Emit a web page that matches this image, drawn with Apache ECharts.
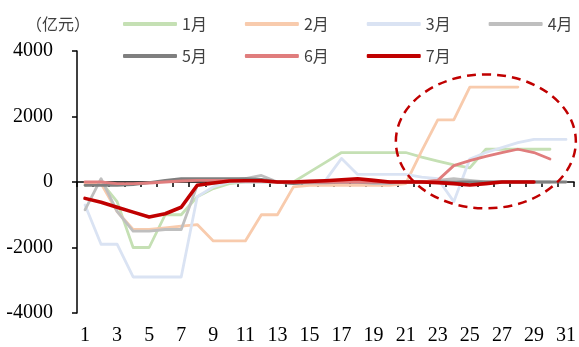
<!DOCTYPE html>
<html>
<head>
<meta charset="utf-8">
<script src="https://cdn.jsdelivr.net/npm/echarts@6/dist/echarts.min.js"></script>
<style>html,body{margin:0;padding:0;background:#fff}#c{width:579px;height:347px}</style>
</head>
<body>
<div id="c"></div>
<script>
var days = ['1','2','3','4','5','6','7','8','9','10','11','12','13','14','15','16','17','18','19','20','21','22','23','24','25','26','27','28','29','30','31'];
var seriesNames = ['1月','2月','3月','4月','5月','6月','7月'];
var yTicks = [-4000, -2000, 0, 2000, 4000];

var jan = [-100,0,-600,-2000,-2000,-1000,-1000,-450,-200,-50,0,0,0,0,300,600,900,900,900,900,900,760,640,520,430,1000,1000,1000,1000,1000,null];
var feb = [-50,-50,-900,-1450,-1450,-1400,-1350,-1300,-1800,-1800,-1800,-1000,-1000,-150,-100,-100,-100,-100,-100,-100,-50,950,1900,1900,2900,2900,2900,2900,null,null,null];
var mar = [-700,-1900,-1900,-2900,-2900,-2900,-2900,-450,-150,0,0,0,0,0,0,50,720,230,230,230,230,150,100,-600,700,900,1050,1200,1300,1300,1300];
var apr = [-850,100,-900,-1500,-1500,-1450,-1450,-100,-50,50,100,200,0,-50,-30,-30,0,0,-50,-50,0,0,50,100,50,0,0,0,0,0,null];
var may = [-100,-100,-100,-80,-20,50,100,100,100,100,100,80,0,-50,0,0,0,0,0,0,0,0,0,0,0,0,0,0,0,0,0];
var jun = [0,0,-50,-50,-30,0,30,50,50,50,50,30,0,0,0,0,0,0,0,0,0,0,50,500,650,780,900,1000,900,700,null];
var jul = [-500,-620,-770,-920,-1070,-970,-770,-100,-30,30,40,40,0,0,20,40,70,100,50,0,0,0,-20,-50,-90,-50,0,0,0,null,null];

var values = [jan, feb, mar, apr, may, jun, jul];
var colors = ['#c5e0b4','#f8cbad','#dae3f3','#bfbfbf','#7f7f7f','#e07d7d','#c00000'];
var widths = [2.8,2.8,2.8,2.8,2.8,2.8,3.6];

var chart = echarts.init(document.getElementById('c'));
var series = seriesNames.map(function(n, i){
  return {
    name: n, type: 'line', data: values[i], xAxisIndex: 0, yAxisIndex: 0,
    showSymbol: false, symbol: 'none', connectNulls: false,
    lineStyle: {color: colors[i], width: widths[i], cap: 'round', join: 'round'},
    itemStyle: {color: colors[i]},
    emphasis: {disabled: true}, animation: false
  };
});
var legendText = {fontSize: 16, color: '#404040', fontFamily: 'Noto Sans CJK SC'};
var option = {
  animation: false,
  title: {text: '（亿元）', left: 26, top: 16, padding: 0,
    textStyle: {fontSize: 16, fontWeight: 'normal', color: '#404040', fontFamily: 'Noto Sans CJK SC'}},
  legend: [
    {data: seriesNames.slice(0,4), left: 123, top: 16, padding: 0, itemWidth: 54, itemHeight: 4, itemGap: 38, icon: 'roundRect', textStyle: legendText},
    {data: seriesNames.slice(4), left: 123, top: 48, padding: 0, itemWidth: 54, itemHeight: 4, itemGap: 38, icon: 'roundRect', textStyle: legendText}
  ],
  grid: {left: 77, right: 4, top: 51, bottom: 34, containLabel: false},
  xAxis: [
    {type: 'category', data: days, position: 'bottom', boundaryGap: true,
      axisLine: {show: false, onZero: false}, axisTick: {show: false},
      axisLabel: {interval: 1, margin: 13, fontSize: 20, color: '#000', fontFamily: 'Liberation Serif'}},
    {type: 'category', data: days, position: 'bottom', boundaryGap: true,
      axisLine: {show: true, onZero: true, lineStyle: {color: '#000', width: 1.5}},
      axisTick: {show: true, interval: 0, length: 5, lineStyle: {color: '#000', width: 1.5}},
      axisLabel: {show: false}}
  ],
  yAxis: {type: 'value', min: yTicks[0], max: yTicks[yTicks.length-1], interval: 2000,
    splitLine: {show: false},
    axisLine: {show: true, lineStyle: {color: '#000', width: 1.5}},
    axisTick: {show: true, length: 5, lineStyle: {color: '#000', width: 1.5}},
    axisLabel: {margin: 24, fontSize: 20, color: '#000', fontFamily: 'Liberation Serif',
      formatter: function(v){ return String(v); }}},
  series: series
};
chart.setOption(option);
var ctr = chart.convertToPixel({xAxisIndex: 0, yAxisIndex: 0}, ['26', 1240]);
chart.setOption({graphic: [{type: 'ellipse', shape: {cx: ctr[0], cy: ctr[1], rx: 90, ry: 67}, silent: true, z: 100,
  style: {fill: 'none', stroke: '#c00000', lineWidth: 2.5, lineDash: [9, 6]}}]});
</script>
</body>
</html>
